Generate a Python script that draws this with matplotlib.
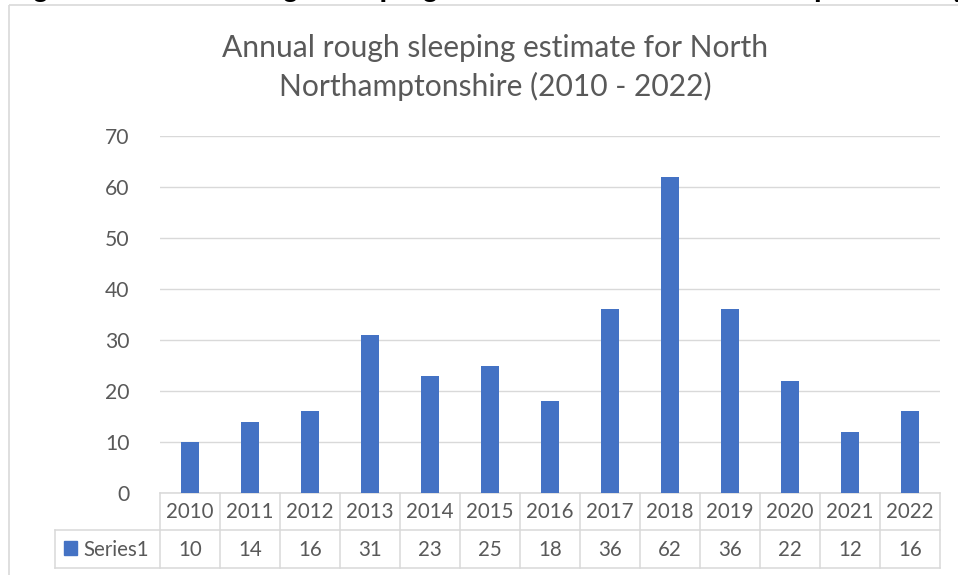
import matplotlib
matplotlib.use("Agg")
import matplotlib.pyplot as plt
from matplotlib.transforms import blended_transform_factory
from matplotlib.patches import Rectangle

# Data
years = ["2010", "2011", "2012", "2013", "2014", "2015", "2016",
         "2017", "2018", "2019", "2020", "2021", "2022"]
rough_sleepers = [10, 14, 16, 31, 23, 25, 18, 36, 62, 36, 22, 12, 16]
series_name = "Series1"
y_ticks = [0, 10, 20, 30, 40, 50, 60, 70]

caption = "Figure 1: Annual rough sleeping estimate for North Northamptonshire (2010 - 2022)"
title_lines = ["Annual rough sleeping estimate for North",
               "Northamptonshire (2010 - 2022)"]

W, H = 958, 575
BAR = "#4472C4"
GRID = "#D9D9D9"
TXT = "#595959"
FONT = "Lato"

fig = plt.figure(figsize=(W / 100, H / 100), dpi=100)

# Full-figure overlay in pixel coordinates (y grows downward)
over = fig.add_axes([0, 0, 1, 1], zorder=0)
over.set_xlim(0, W)
over.set_ylim(H, 0)
over.axis("off")

# Plot area
x0, x1 = 160, 940
y_top, y_base = 136, 493
ax = fig.add_axes([x0 / W, (H - y_base) / H, (x1 - x0) / W, (y_base - y_top) / H], zorder=2)
n = len(years)
xs = [i + 0.5 for i in range(n)]
ax.bar(xs, rough_sleepers, width=0.3, color=BAR, zorder=3)
ax.set_xlim(0, n)
ax.set_ylim(0, 70)
ax.set_yticks(y_ticks)
ax.set_yticklabels([str(t) for t in y_ticks], fontsize=15.2, color=TXT, family=FONT)
ax.tick_params(axis="y", length=0, pad=22)
ax.set_xticks([])
ax.grid(axis="y", color=GRID, linewidth=1.0, zorder=0)
for s in ax.spines.values():
    s.set_visible(False)
ax.patch.set_alpha(0)

# Chart frame
over.plot([9.5, 9.5], [5, H], color=GRID, lw=1.2, solid_capstyle="butt")
over.plot([9.5, W], [5, 5], color=GRID, lw=1.2, solid_capstyle="butt")

# Caption line above the chart (mostly outside the canvas)
fig.text(7 / W, 1 + 4.0 / H, caption, family="Liberation Sans", weight="bold",
         fontsize=20.3, color="black", ha="left", va="baseline", zorder=5)

# Chart title
over.text(495, 57, title_lines[0], family=FONT, fontsize=21.6, color=TXT,
          ha="center", va="baseline")
over.text(495, 96, title_lines[1], family=FONT, fontsize=21.6, color=TXT,
          ha="center", va="baseline")

# Data table under the axis
tr = blended_transform_factory(ax.transData, over.transData)
r0, r1, r2 = 493, 530, 568
lkw = dict(color=GRID, lw=1.1, solid_capstyle="projecting", zorder=1)
over.plot([x0, x1], [r0, r0], **lkw)
over.plot([55, x1], [r1, r1], **lkw)
over.plot([55, x1], [r2, r2], **lkw)
over.plot([55, 55], [r1, r2], **lkw)
for k in range(n + 1):
    over.plot([k, k], [r0, r2], transform=tr, **lkw)

tkw = dict(family=FONT, fontsize=14.8, color=TXT, ha="center", va="center")
for i, (yr, v) in enumerate(zip(years, rough_sleepers)):
    over.text(xs[i], (r0 + r1) / 2 + 1, yr, transform=tr, **tkw)
    over.text(xs[i], (r1 + r2) / 2 + 1, str(v), transform=tr, **tkw)

over.add_patch(Rectangle((64, 541), 13.5, 13.5, color=BAR))
over.text(83, (r1 + r2) / 2 + 1, series_name, family=FONT, fontsize=14.8,
          color=TXT, ha="left", va="center")

fig.savefig("out.png", dpi=100)
